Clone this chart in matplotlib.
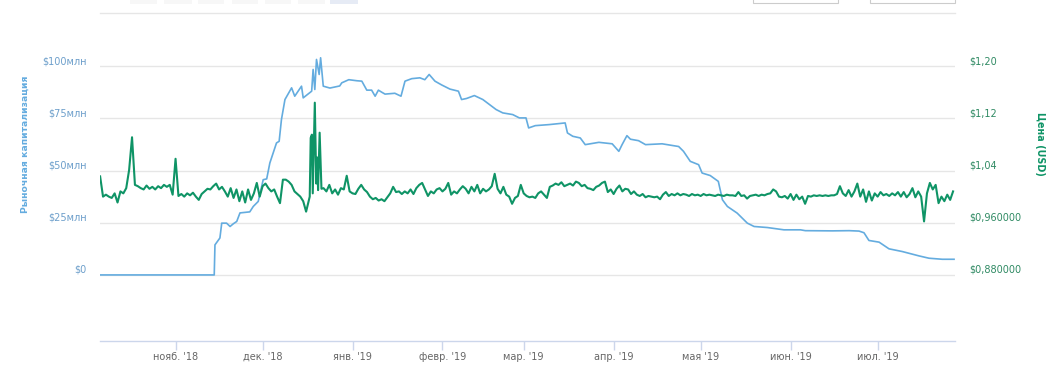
import matplotlib
matplotlib.use('Agg')
import matplotlib.pyplot as plt
import matplotlib.patches as mpatches
import pandas as pd

# ---------------- data ----------------
# market capitalisation, millions USD
mcap_dates = [
    '2018-10-06 00:00', '2018-11-14 08:00', '2018-11-14 14:00', '2018-11-16 07:00', '2018-11-16 22:00',
    '2018-11-18 14:00', '2018-11-19 19:00', '2018-11-20 22:00', '2018-11-22 02:00', '2018-11-23 05:00',
    '2018-11-26 14:00', '2018-11-27 19:00', '2018-11-29 12:00', '2018-12-01 05:00', '2018-12-02 10:00',
    '2018-12-03 12:00', '2018-12-05 19:00', '2018-12-06 17:00', '2018-12-07 12:00', '2018-12-08 17:00',
    '2018-12-11 00:00', '2018-12-12 02:00', '2018-12-14 10:00', '2018-12-15 00:00', '2018-12-17 22:00',
    '2018-12-18 10:00', '2018-12-19 00:00', '2018-12-19 14:00', '2018-12-20 12:00', '2018-12-21 00:00',
    '2018-12-21 22:00', '2018-12-24 05:00', '2018-12-27 14:00', '2018-12-28 07:00', '2018-12-30 17:00',
    '2019-01-02 12:00', '2019-01-04 05:00', '2019-01-05 22:00', '2019-01-07 14:00', '2019-01-08 19:00',
    '2019-01-09 22:00', '2019-01-11 02:00', '2019-01-12 05:00', '2019-01-15 14:00', '2019-01-17 17:00',
    '2019-01-19 02:00', '2019-01-21 10:00', '2019-01-24 05:00', '2019-01-25 22:00', '2019-01-27 10:00',
    '2019-01-29 10:00', '2019-01-31 17:00', '2019-02-03 14:00', '2019-02-06 12:00', '2019-02-07 14:00',
    '2019-02-09 07:00', '2019-02-12 00:00', '2019-02-14 22:00', '2019-02-17 05:00', '2019-02-19 12:00',
    '2019-02-21 19:00', '2019-02-25 05:00', '2019-02-27 12:00', '2019-03-01 19:00', '2019-03-02 17:00',
    '2019-03-05 00:00', '2019-03-09 19:00', '2019-03-13 07:00', '2019-03-15 07:00', '2019-03-16 02:00',
    '2019-03-17 22:00', '2019-03-20 12:00', '2019-03-22 05:00', '2019-03-26 22:00', '2019-03-31 12:00',
    '2019-04-02 19:00', '2019-04-03 22:00', '2019-04-05 14:00', '2019-04-06 19:00', '2019-04-09 14:00',
    '2019-04-12 00:00', '2019-04-17 17:00', '2019-04-23 10:00', '2019-04-25 02:00', '2019-04-27 10:00',
    '2019-04-30 07:00', '2019-05-01 12:00', '2019-05-04 07:00', '2019-05-07 02:00', '2019-05-08 12:00',
    '2019-05-10 05:00', '2019-05-13 14:00', '2019-05-17 02:00', '2019-05-19 10:00', '2019-05-24 00:00',
    '2019-05-29 17:00', '2019-06-04 10:00', '2019-06-06 02:00', '2019-06-15 07:00', '2019-06-21 05:00',
    '2019-06-24 14:00', '2019-06-26 07:00', '2019-06-28 00:00', '2019-07-01 12:00', '2019-07-04 22:00',
    '2019-07-09 12:00', '2019-07-15 07:00', '2019-07-18 17:00', '2019-07-23 07:00', '2019-07-27 08:00',
]
mcap_values = [
    0, 0, 14.4, 17.7, 24.8,
    24.8, 23.2, 24.5, 25.6, 29.7,
    30.2, 32.8, 35.2, 45.6, 46.0,
    53.6, 63.2, 64.0, 74.4, 84.0,
    89.6, 85.6, 90.4, 84.8, 88.0,
    98.4, 88.8, 103.2, 96.0, 104.0,
    90.4, 89.5, 90.5, 92.0, 93.5,
    93.0, 92.8, 88.5, 88.5, 85.6,
    88.5, 87.5, 86.6, 87.0, 85.6,
    92.8, 94.0, 94.4, 93.5, 96.0,
    92.8, 91.0, 89.0, 88.0, 84.0,
    84.5, 85.9, 84.0, 81.6, 79.2,
    77.6, 76.8, 75.2, 75.2, 70.4,
    71.5, 72.0, 72.5, 72.8, 68.0,
    66.4, 65.6, 62.4, 63.5, 62.8,
    59.2, 62.4, 66.7, 65.0, 64.3,
    62.4, 62.8, 61.5, 59.2, 54.4,
    52.8, 48.8, 47.6, 44.8, 36.0,
    32.8, 29.6, 24.8, 23.2, 22.7,
    21.6, 21.6, 21.2, 21.1, 21.2,
    21.0, 20.2, 16.5, 15.7, 12.5,
    11.2, 9.1, 8.0, 7.5, 7.5,
]

# price, USD: one value per day from price_start (None = covered by intraday points below)
price_start = '2018-10-06'
price_daily = [
    1.031, 1.000, 1.003, 1.000, 0.998, 1.005, 0.991, 1.008, 1.005, 1.013,
    1.041, 1.091, 1.018, 1.016, 1.013, 1.011, 1.017, 1.012, 1.015, 1.011,
    1.016, 1.013, 1.018, 1.015, 1.018, 1.003, 1.058, 1.001, 1.004, 1.000,
    1.005, 1.002, 1.006, 1.000, 0.995, 1.004, 1.008, 1.012, 1.011, 1.016,
    1.020, 1.011, 1.015, 1.008, 1.000, 1.013, 0.998, 1.011, 0.993, 1.008,
    0.991, 1.011, 0.995, 1.005, 1.021, 1.000, 1.016, 1.020, 1.013, 1.008,
    1.011, 1.000, 0.990, 1.026, 1.026, 1.023, 1.018, 1.008, 1.004, 1.000,
    0.993, 0.977, None, None, None, None, None, 1.013, 1.008, 1.018,
    1.005, 1.011, 1.003, 1.013, 1.011, 1.032, 1.008, 1.005, 1.004, 1.012,
    1.018, 1.011, 1.007, 1.000, 0.996, 0.998, 0.994, 0.996, 0.993, 0.999,
    1.005, 1.015, 1.007, 1.008, 1.004, 1.008, 1.005, 1.011, 1.004, 1.013,
    1.018, 1.021, 1.011, 1.001, 1.008, 1.005, 1.011, 1.013, 1.008, 1.012,
    1.021, 1.003, 1.008, 1.005, 1.011, 1.016, 1.012, 1.005, 1.015, 1.008,
    1.018, 1.005, 1.012, 1.008, 1.011, 1.016, 1.035, 1.012, 1.005, 1.015,
    1.003, 1.000, 0.989, 0.998, 1.001, 1.018, 1.005, 1.001, 0.999, 1.000,
    0.998, 1.005, 1.008, 1.003, 0.998, 1.015, 1.017, 1.020, 1.018, 1.022,
    1.016, 1.018, 1.020, 1.017, 1.023, 1.021, 1.016, 1.018, 1.013, 1.012,
    1.010, 1.015, 1.017, 1.021, 1.023, 1.007, 1.011, 1.004, 1.012, 1.017,
    1.008, 1.012, 1.011, 1.004, 1.008, 1.003, 1.001, 1.004, 0.999, 1.001,
    1.000, 0.999, 1.000, 0.996, 1.003, 1.007, 1.001, 1.004, 1.002, 1.005,
    1.002, 1.004, 1.003, 1.001, 1.004, 1.002, 1.003, 1.001, 1.004, 1.002,
    1.003, 1.002, 1.001, 1.003, 1.002, 1.001, 1.003, 1.002, 1.002, 1.001,
    1.007, 1.001, 1.002, 0.997, 1.001, 1.002, 1.003, 1.001, 1.003, 1.002,
    1.004, 1.005, 1.011, 1.008, 1.000, 0.999, 1.001, 0.997, 1.004, 0.995,
    1.003, 0.996, 1.000, 0.989, 1.001, 1.000, 1.002, 1.001, 1.002, 1.001,
    1.002, 1.001, 1.002, 1.002, 1.004, 1.016, 1.005, 1.001, 1.010, 1.000,
    1.008, 1.020, 1.000, 1.011, 0.992, 1.008, 0.994, 1.005, 1.000, 1.007,
    1.002, 1.004, 1.001, 1.005, 1.002, 1.007, 1.000, 1.007, 0.999, 1.004,
    1.013, 0.999, 1.008, 1.000, 0.962, 1.005, 1.021, 1.011, 1.018, 0.990,
    1.000, 0.993, 1.003, 0.995, 1.008,
]
# intraday points for the mid-December spikes
spike_dates = [
    '2018-12-17 06:00', '2018-12-17 14:00', '2018-12-18 00:00', '2018-12-18 07:00',
    '2018-12-19 00:00', '2018-12-19 12:00', '2018-12-19 21:00', '2018-12-20 03:00',
    '2018-12-20 16:00', '2018-12-21 07:00',
]
spike_values = [1.000, 1.090, 1.095, 1.005, 1.144, 1.020, 1.060, 1.010, 1.098, 1.012]

month_ticks = ['2018-11-01', '2018-12-01', '2019-01-01', '2019-02-01', '2019-03-01',
               '2019-04-01', '2019-05-01', '2019-06-01', '2019-07-01']
month_labels = ["нояб. '18", "дек. '18", "янв. '19", "февр. '19", "мар. '19",
                "апр. '19", "мая '19", "июн. '19", "июл. '19"]
left_ticks = [0, 25, 50, 75, 100]
left_labels = ['$0', '$25млн', '$50млн', '$75млн', '$100млн']
right_ticks = [0.88, 0.96, 1.04, 1.12, 1.20]
right_labels = ['$0,880000', '$0,960000', '$1,04', '$1,12', '$1,20']
left_title = 'Рыночная капитализация'
right_title = 'Цена (USD)'

# ---------------- build series ----------------
mcap = pd.Series(mcap_values, index=pd.to_datetime(mcap_dates, format='ISO8601'))
daily = pd.Series(price_daily, index=pd.date_range(price_start, periods=len(price_daily), freq='D'),
                  dtype=float)
spikes = pd.Series(spike_values, index=pd.to_datetime(spike_dates, format='ISO8601'))
price = pd.concat([daily, spikes]).dropna().sort_index()

# ---------------- figure ----------------
BLUE = '#64acdf'
GREEN = '#0f9466'
GRID = '#e6e6e6'

fig = plt.figure(figsize=(10.53, 3.70), dpi=100)
ax = fig.add_axes([100 / 1053, 1 - 340.7 / 370, 855 / 1053, 327.4 / 370])
ax2 = ax.twinx()

ax.plot(mcap.index, mcap.values, color=BLUE, lw=1.2, zorder=3)
ax2.plot(price.index, price.values, color=GREEN, lw=1.5, zorder=3)

ylo, yhi = -31.5, 125.3
ax.set_ylim(ylo, yhi)
ax2.set_ylim(0.88 + ylo * 0.0032, 0.88 + yhi * 0.0032)
ax.set_xlim(pd.Timestamp('2018-10-05 23:00'), pd.Timestamp('2019-07-27 16:00'))

ax.set_yticks(left_ticks)
ax.set_yticklabels(left_labels)
ax2.set_yticks(right_ticks)
ax2.set_yticklabels(right_labels)
ax.set_xticks(pd.to_datetime(month_ticks))
ax.set_xticklabels(month_labels)

ax.grid(axis='y', color=GRID, lw=1.0, zorder=0)
ax.set_axisbelow(True)

for s in ['left', 'right']:
    ax.spines[s].set_visible(False)
for s in ['left', 'right', 'top', 'bottom']:
    ax2.spines[s].set_visible(False)
ax.spines['top'].set_color(GRID)
ax.spines['top'].set_linewidth(1.0)
ax.spines['bottom'].set_color('#ccd6eb')
ax.spines['bottom'].set_linewidth(1.0)

ax.tick_params(axis='x', length=6.5, width=1, color='#ccd6eb', labelsize=7,
               labelcolor='#666666', pad=1.5)
ax.tick_params(axis='y', length=0, pad=9.5, labelsize=7, labelcolor='#6d9fcb')
ax2.tick_params(axis='y', length=0, pad=10, labelsize=7, labelcolor='#2f8a63')
for t in ax.get_yticklabels() + ax2.get_yticklabels():
    t.set_verticalalignment('bottom')

ax.set_ylabel(left_title, color=BLUE, fontsize=6.7, fontweight='bold')
ax.yaxis.set_label_coords(-0.082, 0.60)
ax2.set_ylabel(right_title, color=GREEN, fontsize=6.9, fontweight='bold', rotation=270,
               va='center')
ax2.yaxis.set_label_coords(1.0995, 0.60)

# range-selector controls cut off at the top edge
W, H = 1053, 370
for x0, x1, fc in [(130, 157, '#f7f7f7'), (164, 192, '#f7f7f7'), (198, 224, '#f7f7f7'),
                   (232, 258, '#f7f7f7'), (265, 291, '#f7f7f7'), (298, 325, '#f7f7f7'),
                   (330, 358, '#e6ebf5')]:
    fig.patches.append(mpatches.Rectangle((x0 / W, 1 - 4 / H), (x1 - x0) / W, 6 / H,
                                          transform=fig.transFigure, facecolor=fc,
                                          edgecolor='none'))
for x0, x1 in [(753, 838), (870, 955)]:
    fig.patches.append(mpatches.Rectangle((x0 / W, 1 - 2.5 / H), (x1 - x0) / W, 4 / H,
                                          transform=fig.transFigure, facecolor='white',
                                          edgecolor='#cccccc', lw=0.8))

fig.savefig('out.png', dpi=100, facecolor='white')
